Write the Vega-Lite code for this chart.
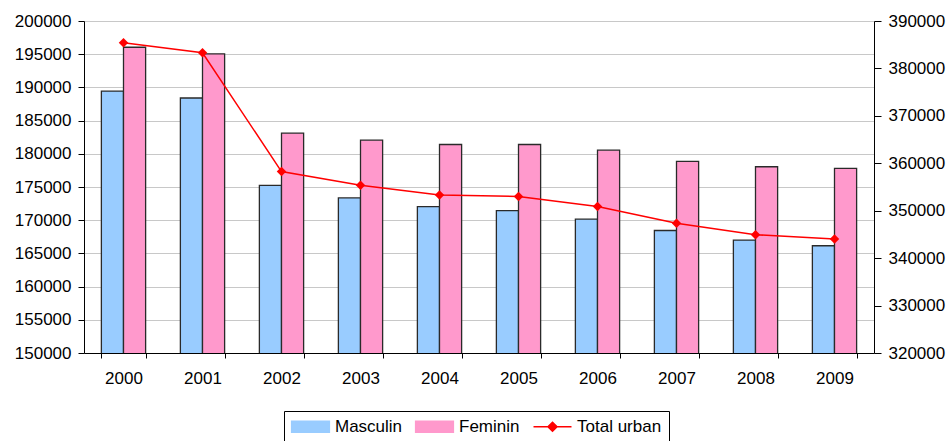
{
  "$schema": "https://vega.github.io/schema/vega-lite/v6.json",
  "autosize": "none",
  "padding": {"left": 84, "top": 21, "right": 75, "bottom": 88},
  "width": 790,
  "height": 332,
  "background": "#ffffff",
  "config": {
    "view": {"stroke": null},
    "font": "Liberation Sans",
    "axis": {"labelFont": "Liberation Sans", "labelFontSize": 17, "labelColor": "#000000", "domainColor": "#000000", "tickColor": "#000000", "domainWidth": 1, "tickWidth": 1}
  },
  "data": {
    "values": [
      {"year": "2000", "series": "Masculin", "value": 189450},
      {"year": "2001", "series": "Masculin", "value": 188400},
      {"year": "2002", "series": "Masculin", "value": 175250},
      {"year": "2003", "series": "Masculin", "value": 173350},
      {"year": "2004", "series": "Masculin", "value": 172050},
      {"year": "2005", "series": "Masculin", "value": 171450},
      {"year": "2006", "series": "Masculin", "value": 170150},
      {"year": "2007", "series": "Masculin", "value": 168450},
      {"year": "2008", "series": "Masculin", "value": 167000},
      {"year": "2009", "series": "Masculin", "value": 166150},
      {"year": "2000", "series": "Feminin", "value": 196050},
      {"year": "2001", "series": "Feminin", "value": 195050},
      {"year": "2002", "series": "Feminin", "value": 183100},
      {"year": "2003", "series": "Feminin", "value": 182050},
      {"year": "2004", "series": "Feminin", "value": 181400},
      {"year": "2005", "series": "Feminin", "value": 181400},
      {"year": "2006", "series": "Feminin", "value": 180550},
      {"year": "2007", "series": "Feminin", "value": 178850},
      {"year": "2008", "series": "Feminin", "value": 178050},
      {"year": "2009", "series": "Feminin", "value": 177800},
      {"year": "2000", "series": "Total urban", "value": 385400},
      {"year": "2001", "series": "Total urban", "value": 383300},
      {"year": "2002", "series": "Total urban", "value": 358250},
      {"year": "2003", "series": "Total urban", "value": 355350},
      {"year": "2004", "series": "Total urban", "value": 353300},
      {"year": "2005", "series": "Total urban", "value": 353000},
      {"year": "2006", "series": "Total urban", "value": 350900},
      {"year": "2007", "series": "Total urban", "value": 347350},
      {"year": "2008", "series": "Total urban", "value": 344950},
      {"year": "2009", "series": "Total urban", "value": 344050}
    ]
  },
  "encoding": {
    "x": {
      "field": "year", "type": "nominal",
      "scale": {"paddingInner": 0.44, "paddingOuter": 0.22},
      "axis": {"title": null, "labelAngle": 0, "tickBand": "extent", "tickSize": 5, "labelPadding": 12, "grid": false}
    }
  },
  "layer": [
    {
      "transform": [{"filter": "datum.series !== 'Total urban'"}],
      "mark": {"type": "bar", "stroke": "#2a2a2a", "strokeWidth": 1.3, "opacity": 1, "clip": true},
      "encoding": {
        "xOffset": {"field": "series", "type": "nominal", "sort": ["Masculin", "Feminin"], "scale": {"paddingInner": 0, "paddingOuter": 0}},
        "y": {
          "field": "value", "type": "quantitative",
          "scale": {"domain": [150000, 200000], "nice": false, "zero": false},
          "axis": {"title": null, "orient": "left", "values": [150000, 155000, 160000, 165000, 170000, 175000, 180000, 185000, 190000, 195000, 200000], "format": "d", "grid": true, "gridColor": "#c8c8c8", "gridWidth": 1, "tickSize": 6, "labelPadding": 7}
        },
        "color": {
          "field": "series", "type": "nominal",
          "scale": {"domain": ["Masculin", "Feminin", "Total urban"], "range": ["#99ccff", "#ff99cc", "#ff0000"]},
          "legend": {
            "title": null,
            "orient": "none",
            "legendX": 200,
            "legendY": 390,
            "direction": "horizontal",
            "strokeColor": "#000000",
            "fillColor": "#ffffff",
            "padding": 7,
            "labelFont": "Liberation Sans",
            "labelFontSize": 17,
            "labelColor": "#000000",
            "labelOffset": 16,
            "symbolOffset": 11,
            "columnPadding": 10,
            "symbolSize": 1444,
            "symbolOpacity": 1,
            "symbolStrokeWidth": 1.2,
            "symbolType": {"expr": "datum.value === 'Total urban' ? 'M-1,0L1,0M0,-0.24L0.24,0L0,0.24L-0.24,0Z' : 'M-1,-0.3L1,-0.3L1,0.3L-1,0.3Z'"},
            "symbolFillColor": {"expr": "datum.value === 'Masculin' ? '#99ccff' : datum.value === 'Feminin' ? '#ff99cc' : '#ff0000'"},
            "symbolStrokeColor": {"expr": "datum.value === 'Total urban' ? '#ff0000' : '#2a2a2a'"},
            "encode": {
              "symbols": {
                "update": {
                  "stroke": {"signal": "datum.value === 'Total urban' ? '#ff0000' : '#2a2a2a'"},
                  "strokeWidth": {"signal": "datum.value === 'Total urban' ? 1.5 : 1.2"},
                  "strokeOpacity": {"value": 1},
                  "fillOpacity": {"value": 1},
                  "fill": {"signal": "datum.value === 'Masculin' ? '#99ccff' : datum.value === 'Feminin' ? '#ff99cc' : '#ff0000'"}
                }
              }
            }
          }
        }
      }
    },
    {
      "transform": [{"filter": "datum.series === 'Total urban'"}],
      "mark": {"type": "line", "strokeWidth": 1.5, "point": {"shape": "diamond", "filled": true, "size": 90}},
      "encoding": {
        "y": {
          "field": "value", "type": "quantitative",
          "scale": {"domain": [320000, 390000], "nice": false, "zero": false},
          "axis": {"title": null, "orient": "right", "values": [320000, 330000, 340000, 350000, 360000, 370000, 380000, 390000], "format": "d", "grid": false, "tickSize": 7, "labelPadding": 7}
        },
        "color": {"field": "series", "type": "nominal"}
      }
    }
  ],
  "resolve": {"scale": {"y": "independent"}}
}
